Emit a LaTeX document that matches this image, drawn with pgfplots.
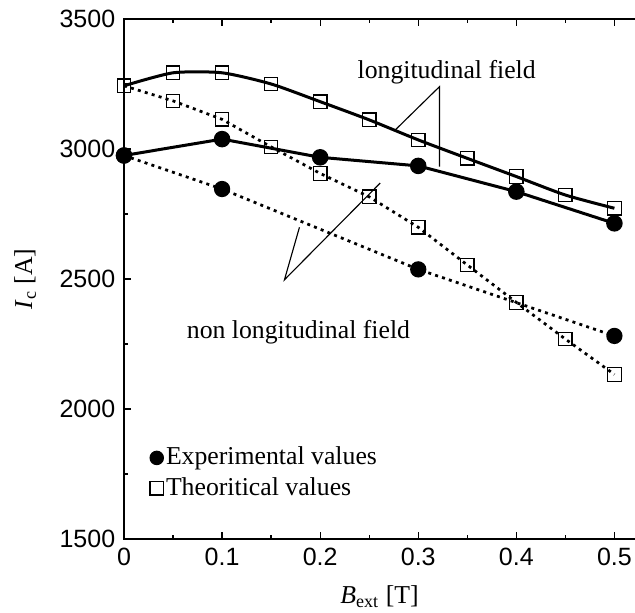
\documentclass[border=0pt]{standalone}
\usepackage{fontspec}
\setmainfont{Liberation Serif}
\newfontfamily\arial{Liberation Sans}
\usepackage{pgfplots}
\pgfplotsset{compat=1.18}
\begin{document}
\begin{tikzpicture}
\begin{axis}[
  name=ax, at={(0,0)}, anchor=south west,
  scale only axis, width=204.4pt, height=208pt,
  xmin=0, xmax=0.521, ymin=1500, ymax=3500,
  axis line style={draw=none},
  xtick pos=both, ytick pos=left,
  xtick={0,0.1,0.2,0.3,0.4,0.5}, ytick={1500,2000,2500,3000,3500},
  minor x tick num=1, minor y tick num=1,
  tick align=inside,
  major tick length=2.8pt, minor tick length=1.6pt,
  every tick/.style={black, line width=0.5pt},
  /pgf/number format/assume math mode=true,
  /pgf/number format/1000 sep={},
  tick label style={font=\arial\fontsize{10}{12}\selectfont},
  xlabel={\textit{B}\textsubscript{ext} [T]},
  ylabel={\textit{I}\textsubscript{c} [A]},
  label style={font=\fontsize{10.3}{12}\selectfont},
  x label style={at={(axis description cs:0.5,-0.125)}, anchor=base},
  y label style={at={(axis description cs:-0.18,0.5)}, anchor=base, rotate=0},
  clip=false,
  legend style={draw=none, fill=none, at={(axis cs:0.026,1865)}, anchor=north west,
    font=\fontsize{10.3}{12}\selectfont, row sep=1.5pt, inner sep=0pt,
    nodes={inner sep=1pt}},
  legend cell align=left,
  legend image code/.code={\draw[#1] plot coordinates {(0.1cm,0cm)};},
]
\draw[line width=0.5pt] (rel axis cs:1,1) -- (rel axis cs:0,1) -- (rel axis cs:0,0) -- (rel axis cs:1,0);
\addlegendimage{only marks, mark=*, mark size=2.7pt, black}
\addlegendentry{Experimental values}
\addlegendimage{only marks, mark=square, mark size=2.7pt, black, line width=0.5pt}
\addlegendentry{Theoritical values}

% experimental, longitudinal
\addplot[black, line width=1.2pt, mark=*, mark size=2.7pt] coordinates {
(0,2975) (0.1,3038) (0.2,2968) (0.3,2935) (0.4,2836) (0.5,2714)};
% experimental, non longitudinal
\addplot[black, line width=1.1pt, dash pattern=on 1.2pt off 1.7pt, mark=*, mark size=2.7pt, mark options={solid}] coordinates {
(0,2975) (0.1,2846) (0.3,2537) (0.5,2281)};
% theoretical, longitudinal
\addplot[black, line width=1.2pt, smooth, tension=0.4, mark=square, mark size=2.7pt, mark options={solid, line width=0.5pt, fill=none}] coordinates {
(0,3243) (0.05,3293) (0.1,3293) (0.15,3250) (0.2,3182) (0.25,3112) (0.3,3035) (0.35,2964) (0.4,2894) (0.45,2823) (0.5,2772)};
% theoretical, non longitudinal
\addplot[black, line width=1.1pt, dash pattern=on 1.2pt off 1.7pt, mark=square, mark size=2.7pt, mark options={solid, line width=0.5pt, fill=none}] coordinates {
(0,3243) (0.05,3185) (0.1,3114) (0.15,3008) (0.2,2906) (0.25,2816) (0.3,2699) (0.35,2554) (0.4,2410) (0.45,2269) (0.5,2133)};

\draw[line width=0.45pt] (axis cs:0.2765,3073) -- (axis cs:0.3217,3240) -- (axis cs:0.3217,2932);
\node[font=\fontsize{10.3}{12}\selectfont, inner sep=0pt] at (axis cs:0.329,3294) {longitudinal field};
\draw[line width=0.45pt] (axis cs:0.1789,2699) -- (axis cs:0.1636,2497) -- (axis cs:0.2612,2869);
\node[font=\fontsize{10.3}{12}\selectfont, inner sep=0pt] at (axis cs:0.1779,2297) {non longitudinal field};
\end{axis}
\pgfresetboundingbox
\path (ax.south west) ++(-49.6pt,-29.6pt) rectangle ++(254pt,245.2pt);
\end{tikzpicture}
\end{document}
